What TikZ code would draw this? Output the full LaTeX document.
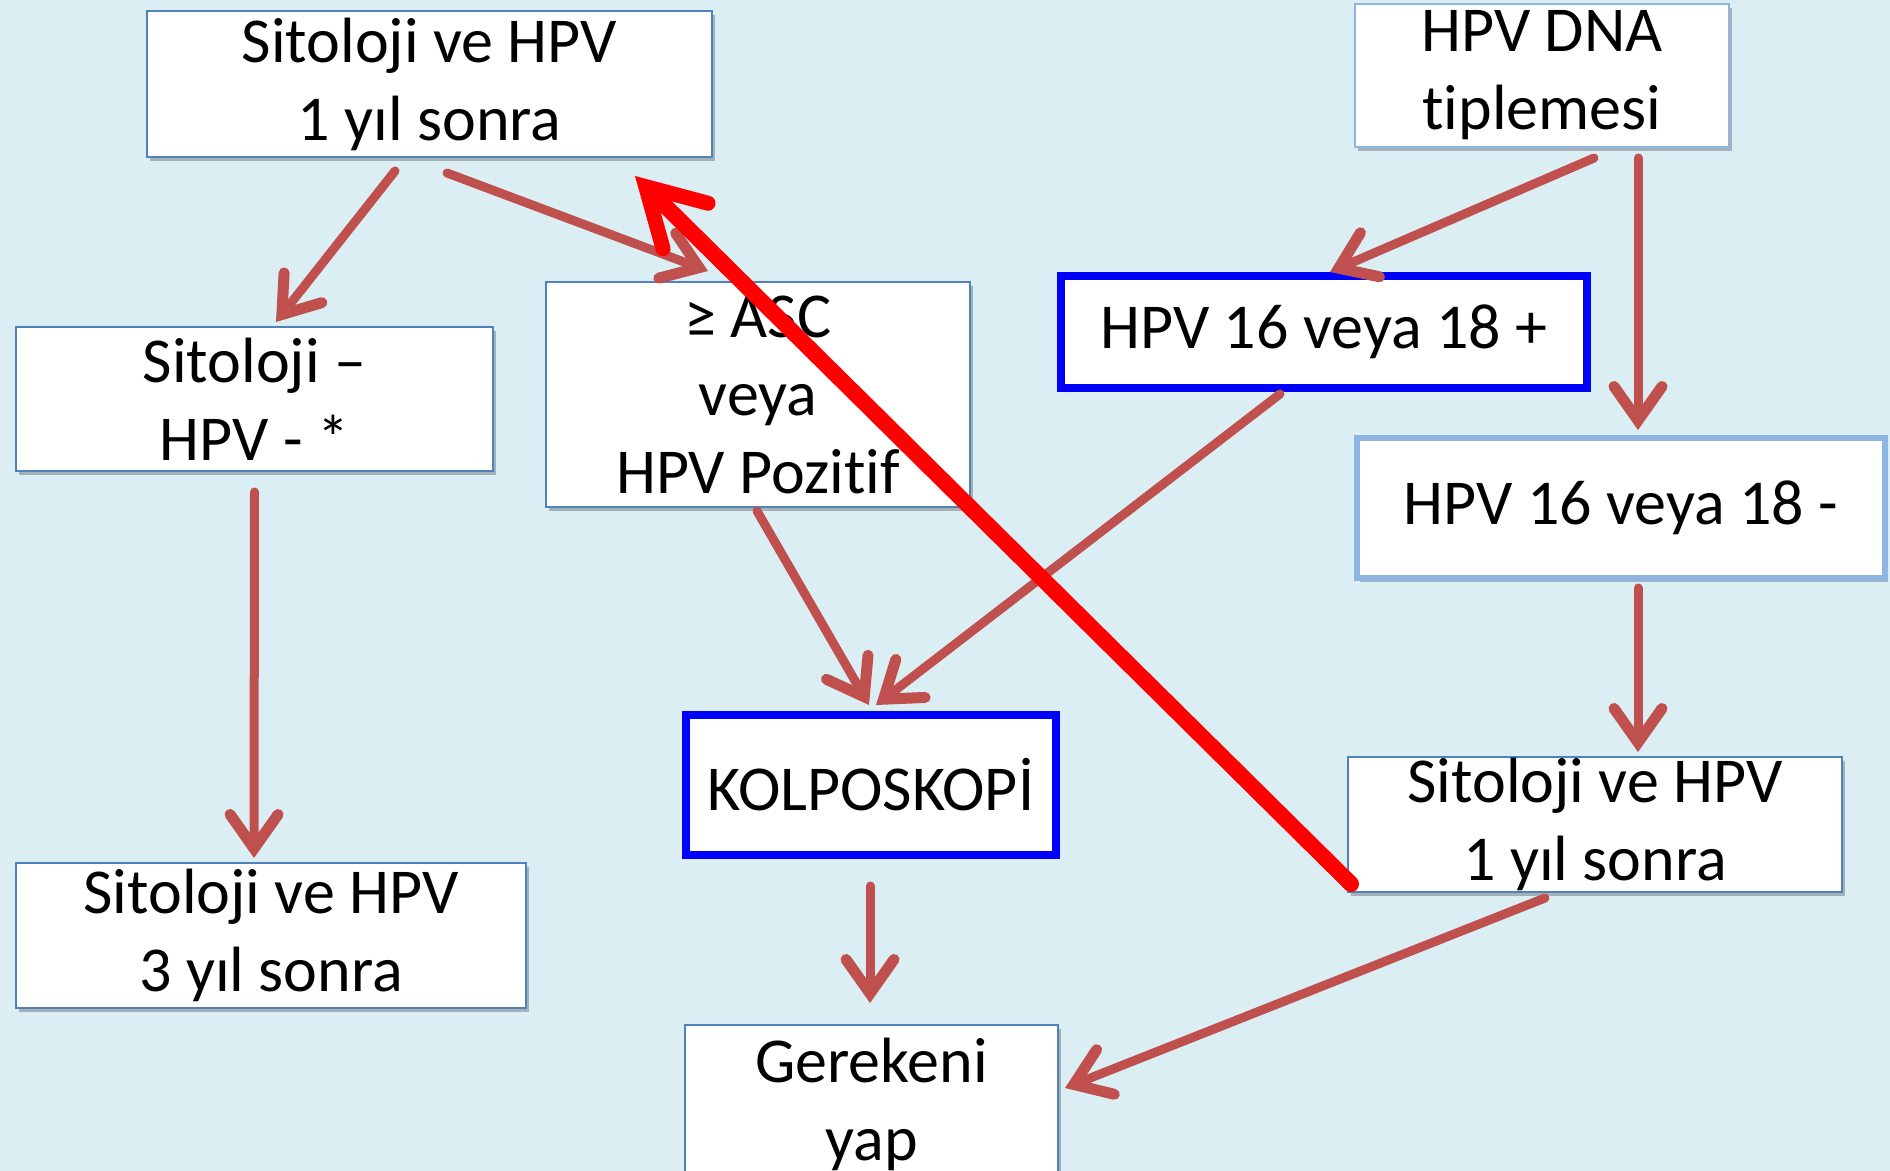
\documentclass[tikz,border=0pt]{standalone}
\usepackage{fontspec}
\setmainfont{Carlito}[RawFeature={-liga;-clig}]
\usetikzlibrary{arrows.meta,calc,shadows}
\definecolor{bg}{HTML}{DBEEF4}
\definecolor{boxline}{HTML}{4F81BD}
\definecolor{lightline}{HTML}{8EB4E3}
\definecolor{arr}{HTML}{C0504D}
\begin{document}
\begin{tikzpicture}[x=0.5pt,y=-0.5pt,
  box/.style={draw=boxline, line width=1pt, fill=white, align=center, inner sep=0pt,
    font=\fontsize{32}{39}\selectfont,
    drop shadow={shadow xshift=1.5pt, shadow yshift=-2pt, opacity=0.25, fill=black}},
  bluebox/.style={box, draw=blue, line width=4pt},
  lightbox/.style={box, draw=lightline, line width=3pt},
  flow/.style={draw=arr, line width=4.5pt, line cap=round,
    -{Straight Barb[length=17pt,width=24pt,line width=5.5pt,line cap=round,line join=miter]}},
  back/.style={draw=red, line width=8pt, line cap=round,
    -{Straight Barb[length=28pt,width=32pt,line width=7.5pt,line cap=round,line join=miter]}}]
\path[use as bounding box, fill=bg] (0,0) rectangle (1890,1171);

\node[box, minimum width=282.5pt, minimum height=73pt] (A) at (429.5,84) {Sitoloji ve HPV\\1 yıl sonra};
\node[box, minimum width=238.5pt, minimum height=72pt] (B) at (254.5,399) {Sitoloji –\\HPV - *};
\node[box, minimum width=212pt, minimum height=112.5pt] (C) at (758,394.5) {≥ ASC\\veya\\HPV Pozitif};
\node[box, draw=lightline, minimum width=187pt, minimum height=71.5pt] (D) at (1542,75.5) {HPV DNA\\tiplemesi};
\node[bluebox, minimum width=263pt, minimum height=56pt] (E) at (1324,332) {HPV 16 veya 18 +};
\node[lightbox, minimum width=264pt, minimum height=70pt] (F) at (1621,508) {HPV 16 veya 18 -};
\node[box, minimum width=255pt, minimum height=72.5pt] (G) at (271,935.5) {Sitoloji ve HPV\\3 yıl sonra};
\node[bluebox, minimum width=185pt, minimum height=70pt] (H) at (871,785) {KOLPOSKOPİ};
\node[box, minimum width=247pt, minimum height=67.5pt] (I) at (1595,824.5) {Sitoloji ve HPV\\1 yıl sonra};
\node[box, minimum width=186.5pt, minimum height=100pt] (J) at (871.5,1125) {};
\node[font=\fontsize{32}{39}\selectfont, align=center, anchor=north, inner sep=0pt] (Jt) at ($(J.north)+(0,14)$) {Gerekeni\\yap};

\draw[flow] ($(A.south)+(-34.5,13)$) -- ($(B.north)+(21.5,-4)$);
\draw[flow] ($(A.south)+(17.5,15)$) -- ($(C.north)+(-50,-10)$);
\draw[flow] ($(B.south)+(0,20)$) -- ($(G.north)+(-17,-4)$);
\draw[flow] ($(C.south)+(-1,3)$) -- ($(H.north)+(-2,-6)$);
\draw[flow] ($(E.south)+(-44,2)$) -- ($(H.north)+(5,-6)$);
\draw[flow] ($(D.south)+(52,10)$) -- ($(E.north)+(6,0)$);
\draw[flow] ($(D.south)+(96,10)$) -- ($(F.north)+(17,-5)$);
\draw[flow] ($(F.south)+(17,7)$) -- ($(I.north)+(43,-4)$);
\draw[flow] ($(H.south)+(-1,27)$) -- ($(J.north)+(-1.5,-21)$);
\draw[flow] ($(I.south)+(-50,5)$) -- ($(J.east)+(6,-37)$);
\draw[back] ($(I.west)+(4,59.5)$) -- ($(A.south east)+(-78,18)$);
\end{tikzpicture}
\end{document}
